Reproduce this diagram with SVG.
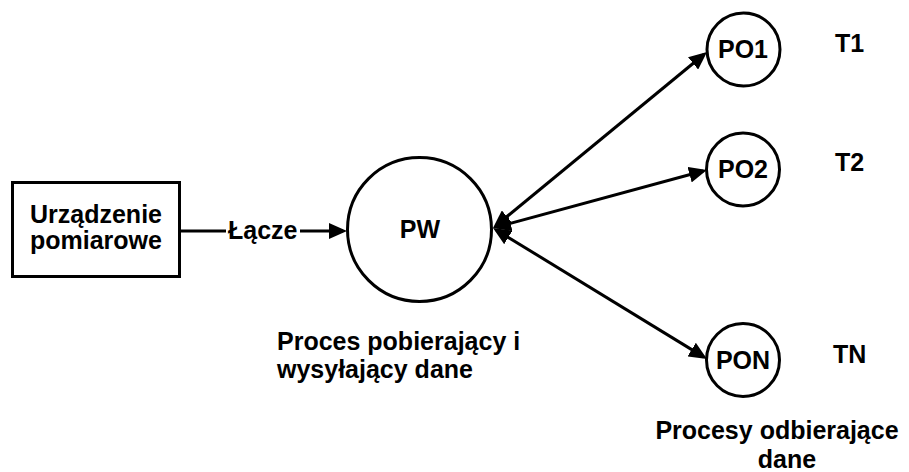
<svg xmlns="http://www.w3.org/2000/svg" width="909" height="472" viewBox="0 0 909 472">
  <style>
    .shape { fill: #fff; stroke: #000; stroke-width: 3; }
    .lbl { font-family: "Liberation Sans", Arial, Helvetica, sans-serif; font-weight: bold; font-size: 25px; fill: #000; }
    .mid { text-anchor: middle; }
    .wire { fill: none; stroke: #000; stroke-width: 3; }
  </style>
  <defs>
    <marker id="arrow" viewBox="0 0 18 16" refX="14" refY="8" markerWidth="18" markerHeight="16" markerUnits="userSpaceOnUse" orient="auto-start-reverse">
      <path d="M0,0 L18,8 L0,16 z" fill="#000"/>
    </marker>
  </defs>
  <rect width="909" height="472" fill="#fff"/>

  <!-- connectors -->
  <g id="connectors">
    <line class="wire" x1="180" y1="231" x2="226" y2="231"/>
    <line class="wire" x1="300" y1="231" x2="343" y2="231" marker-end="url(#arrow)"/>
    <line class="wire" x1="496.1" y1="225.5" x2="703.9" y2="54.5" marker-start="url(#arrow)" marker-end="url(#arrow)"/>
    <line class="wire" x1="496.9" y1="227" x2="703.1" y2="171" marker-start="url(#arrow)" marker-end="url(#arrow)"/>
    <line class="wire" x1="496.4" y1="230.1" x2="703.6" y2="356.9" marker-start="url(#arrow)" marker-end="url(#arrow)"/>
    <text class="lbl" x="228" y="239">Łącze</text>
  </g>

  <!-- measuring device -->
  <g id="urzadzenie">
    <rect class="shape" x="12.5" y="182.5" width="167" height="94"/>
    <text class="lbl mid" x="96" y="223">Urządzenie</text>
    <text class="lbl mid" x="96" y="249">pomiarowe</text>
  </g>

  <!-- sending process -->
  <g id="pw">
    <circle class="shape" cx="419.5" cy="229.5" r="72"/>
    <text class="lbl mid" x="420" y="238">PW</text>
  </g>
  <g id="pw-caption">
    <text class="lbl" x="277" y="350">Proces pobierający i</text>
    <text class="lbl" x="277" y="378">wysyłający dane</text>
  </g>

  <!-- receiving processes -->
  <g id="po1">
    <circle class="shape" cx="743.5" cy="49.5" r="36.5"/>
    <text class="lbl mid" x="743" y="58">PO1</text>
  </g>
  <g id="po2">
    <circle class="shape" cx="743" cy="169.5" r="36.5"/>
    <text class="lbl mid" x="743" y="178">PO2</text>
  </g>
  <g id="pon">
    <circle class="shape" cx="743" cy="360" r="36.5"/>
    <text class="lbl mid" x="743" y="369">PON</text>
  </g>

  <g id="times">
    <text class="lbl" x="835" y="52">T1</text>
    <text class="lbl" x="835" y="171">T2</text>
    <text class="lbl" x="833" y="363">TN</text>
  </g>

  <g id="po-caption">
    <text class="lbl mid" x="777" y="439">Procesy odbierające</text>
    <text class="lbl mid" x="787" y="468">dane</text>
  </g>
</svg>
